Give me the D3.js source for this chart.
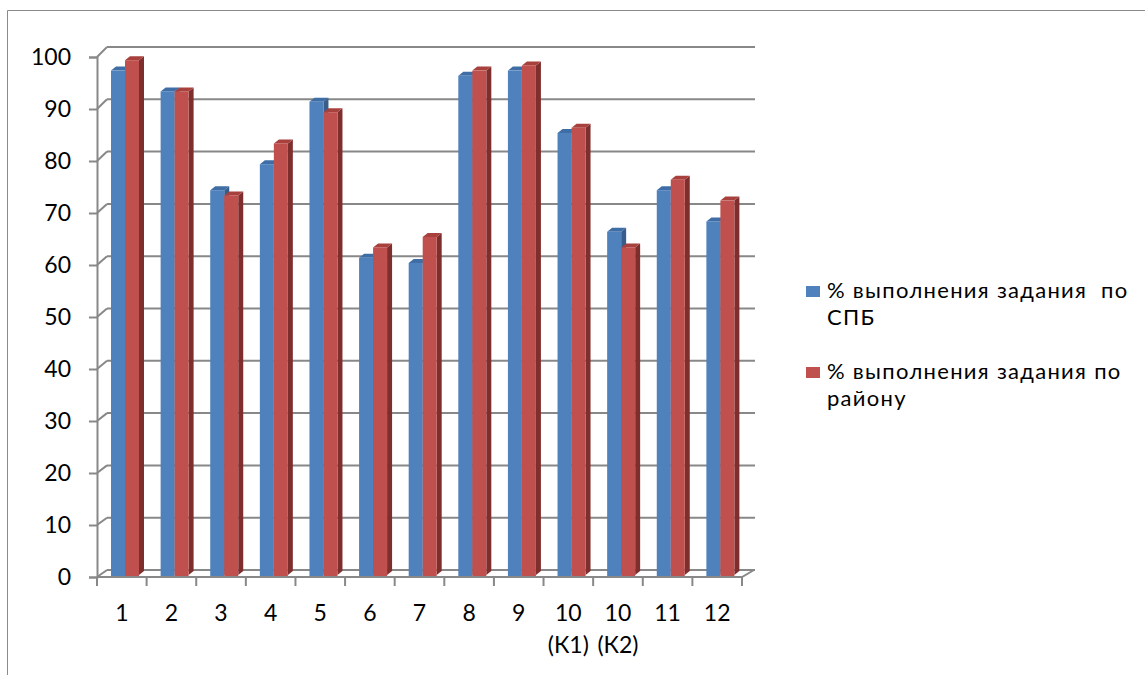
<!DOCTYPE html>
<html>
<head>
<meta charset="utf-8">
<script src="https://cdn.jsdelivr.net/npm/d3@7"></script>
<style>
  html, body { margin: 0; padding: 0; background: #fff; }
  svg { display: block; font-family: Lato, 'Open Sans', sans-serif; }
</style>
</head>
<body>
<svg id="chart" width="1145" height="675"></svg>
<script>
const categories = ['1', '2', '3', '4', '5', '6', '7', '8', '9', '10 (К1)', '10 (К2)', '11', '12']
const spbValues = [97, 93, 74, 79, 91, 61, 60, 96, 97, 85, 66, 74, 68]
const districtValues = [99, 93, 73, 83, 89, 63, 65, 97, 98, 86, 63, 76, 72]
const seriesNames = ['% выполнения задания  по СПБ', '% выполнения задания по району']
const yTicks = [0, 10, 20, 30, 40, 50, 60, 70, 80, 90, 100]

const svg = d3.select('#chart')
const font = "Lato, 'Open Sans', sans-serif"
const gridColor = '#888'
const colors = [
  { front: '#4F81BD', side: '#385D8A', top: '#3F6EA6' },
  { front: '#C0504D', side: '#7E2F2D', top: '#A8403D' },
]

// outer frame
svg.append('path')
  .attr('d', 'M7.5,675 L7.5,10.5 L1145,10.5')
  .attr('fill', 'none')
  .attr('stroke', '#8a8a8a')
  .attr('stroke-width', 1)

const left = 97
const right = 742
const depthX = 10

const x = d3.scaleBand().domain(categories).range([left, right])
const yFront = d3.scaleLinear().domain([0, 100]).range([577, 57])
const yBack = d3.scaleLinear().domain([0, 100]).range([570, 47])
const yBar = d3.scaleLinear().domain([0, 100]).range([575, 55])

// back wall gridlines
svg.append('g')
  .selectAll('line')
  .data(yTicks)
  .join('line')
  .attr('x1', left + depthX)
  .attr('x2', right + depthX + 3)
  .attr('y1', (d) => yBack(d))
  .attr('y2', (d) => yBack(d))
  .attr('stroke', gridColor)
  .attr('stroke-width', 2)

// side wall diagonals
svg.append('g')
  .selectAll('line')
  .data(yTicks)
  .join('line')
  .attr('x1', left)
  .attr('x2', left + depthX)
  .attr('y1', (d) => yFront(d))
  .attr('y2', (d) => yBack(d))
  .attr('stroke', gridColor)
  .attr('stroke-width', 2)

// floor
svg.append('path')
  .attr('d', `M${left},${yFront(0)} L${right},${yFront(0)} L${right + depthX + 2},${yBack(0)}`)
  .attr('fill', 'none')
  .attr('stroke', gridColor)
  .attr('stroke-width', 2)

// y axis
const yAxis = svg.append('g')
  .attr('transform', `translate(${left},0)`)
  .call(d3.axisLeft(yFront).tickValues(yTicks).tickSize(8).tickPadding(18))
yAxis.attr('font-family', font).attr('font-size', 23)
yAxis.select('.domain').attr('stroke', gridColor).attr('stroke-width', 2)
yAxis.selectAll('.tick line').attr('stroke', gridColor).attr('stroke-width', 2)
yAxis.selectAll('.tick text').attr('fill', '#000')

// x axis ticks at band edges
svg.append('g')
  .selectAll('line')
  .data(d3.range(categories.length + 1))
  .join('line')
  .attr('x1', (i) => left + i * x.bandwidth())
  .attr('x2', (i) => left + i * x.bandwidth())
  .attr('y1', yFront(0))
  .attr('y2', yFront(0) + 9)
  .attr('stroke', gridColor)
  .attr('stroke-width', 2)

// x labels
const xLabels = svg.append('g')
  .attr('font-family', font)
  .attr('font-size', 23)
  .selectAll('text')
  .data(categories)
  .join('text')
  .attr('x', (d) => x(d) + x.bandwidth() / 2)
  .attr('y', 621)
  .attr('text-anchor', 'middle')
  .attr('fill', '#000')
xLabels.each(function (d) {
  const parts = d.split(' ')
  d3.select(this).selectAll('tspan')
    .data(parts)
    .join('tspan')
    .attr('x', x(d) + x.bandwidth() / 2)
    .attr('dy', (p, i) => (i === 0 ? 0 : 32))
    .text((p) => p)
})

// bars
const barW = 14
const dX = 5
const dY = 4
const series = [spbValues, districtValues]

series.forEach((values, s) => {
  const g = svg.append('g')
  const c = colors[s]
  const bx = (i) => x(categories[i]) + 14 + s * barW
  g.selectAll('path.side')
    .data(values)
    .join('path')
    .attr('fill', c.side)
    .attr('d', (v, i) => {
      const x0 = bx(i) + barW
      const yt = yBar(v)
      const yb = yBar(0)
      return `M${x0},${yt} L${x0 + dX},${yt - dY} L${x0 + dX},${yb - dY} L${x0},${yb} Z`
    })
  g.selectAll('path.top')
    .data(values)
    .join('path')
    .attr('fill', c.top)
    .attr('d', (v, i) => {
      const x0 = bx(i)
      const yt = yBar(v)
      return `M${x0},${yt} L${x0 + dX},${yt - dY} L${x0 + barW + dX},${yt - dY} L${x0 + barW},${yt} Z`
    })
  g.selectAll('rect')
    .data(values)
    .join('rect')
    .attr('x', (v, i) => bx(i))
    .attr('y', (v) => yBar(v))
    .attr('width', barW)
    .attr('height', (v) => yBar(0) - yBar(v) + 1)
    .attr('fill', c.front)
})

// legend
const legendLines = [['% выполнения задания  по', 'СПБ'], ['% выполнения задания по', 'району']]
const legend = svg.append('g').attr('transform', 'translate(806,0)')
legendLines.forEach((lines, i) => {
  const y0 = 290 + i * 81
  legend.append('rect')
    .attr('x', 0)
    .attr('y', y0 - 4)
    .attr('width', 14)
    .attr('height', 11)
    .attr('fill', colors[i].front)
  legend.append('text')
    .attr('x', 21)
    .attr('y', y0 + 8)
    .attr('font-family', font)
    .attr('font-size', 22)
    .attr('letter-spacing', 1.3)
    .attr('fill', '#000')
    .style('white-space', 'pre')
    .selectAll('tspan')
    .data(lines)
    .join('tspan')
    .attr('x', 21)
    .attr('dy', (p, j) => (j === 0 ? 0 : 27))
    .text((p) => p)
})
</script>
</body>
</html>
